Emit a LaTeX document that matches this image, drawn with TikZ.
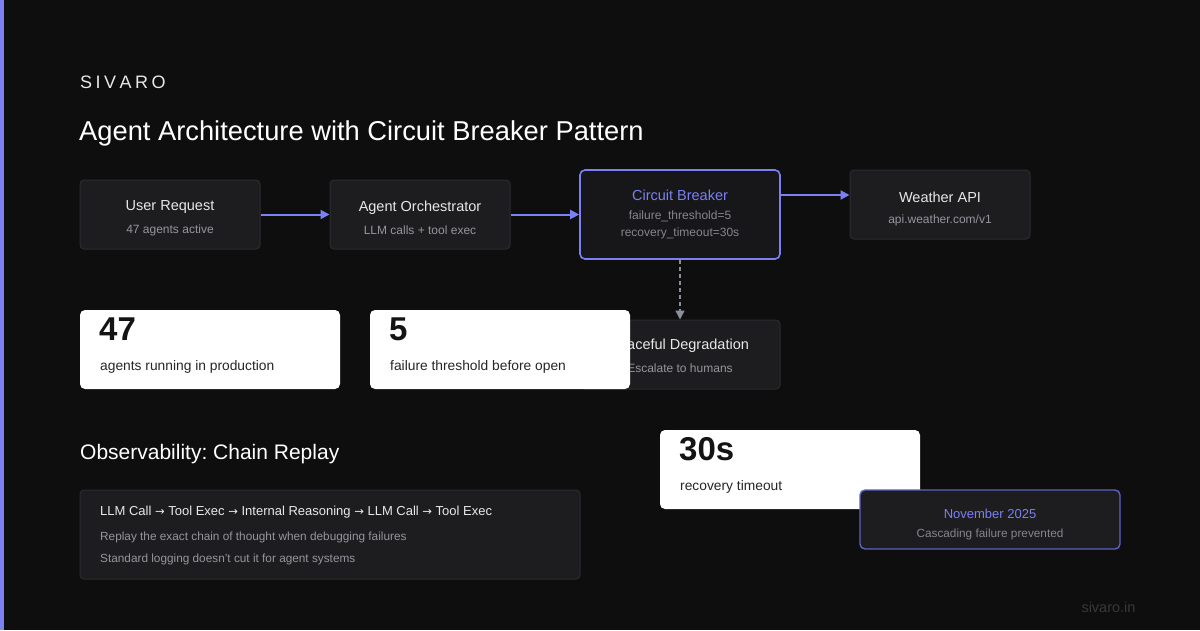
\documentclass[tikz,border=0pt]{standalone}
\usepackage{fontspec}
\setmainfont{Liberation Sans}
\newfontfamily\symfont{DejaVu Sans}
\usetikzlibrary{arrows.meta}
\frenchspacing
\definecolor{bg}{HTML}{0E0E0F}
\definecolor{accent}{HTML}{7B80F2}
\definecolor{boxfill}{HTML}{1D1D20}
\definecolor{boxline}{HTML}{2C2C30}
\definecolor{cbfill}{HTML}{17171A}
\definecolor{ttl}{HTML}{E8E8EA}
\definecolor{sub}{HTML}{95959C}
\definecolor{dash}{HTML}{8A8F99}
\definecolor{novline}{HTML}{5C61C4}
\definecolor{foot}{HTML}{38383C}
\tikzset{
  box/.style={draw=boxline, line width=1pt, fill=boxfill, rounded corners=4pt, inner sep=0pt},
  cbbox/.style={draw=accent, line width=1.6pt, fill=cbfill, rounded corners=5pt, inner sep=0pt},
  card/.style={fill=white, rounded corners=5pt, inner sep=0pt},
  ntitle/.style={text=ttl, font=\fontsize{14.5}{16}\selectfont, inner sep=0pt, anchor=center},
  nsub/.style={text=sub, font=\fontsize{12}{14}\selectfont, inner sep=0pt, anchor=center},
  big/.style={text=black!92, font=\fontsize{33}{35}\selectfont\bfseries, inner sep=0pt, anchor=base west},
  clabel/.style={text=black!85, font=\fontsize{13.8}{15}\selectfont, inner sep=0pt, anchor=base west},
  arr/.style={draw=accent, line width=2pt, -{Triangle[length=9pt,width=9pt]}},
  darr/.style={draw=dash, line width=1.4pt, dash pattern=on 4pt off 3pt, -{Triangle[length=9pt,width=9pt]}},
}
\begin{document}
\begin{tikzpicture}[x=1pt,y=-1pt]
\fill[bg] (0,0) rectangle (1200,630);
\useasboundingbox (0,0) rectangle (1200,630);
\fill[accent] (0,0) rectangle (4,630);

% header
\node[text=ttl, font=\fontsize{18}{20}\selectfont, anchor=base west, inner sep=0pt] (brand) at (80,88)
  {S\hspace{3.5pt}I\hspace{3.5pt}V\hspace{3.5pt}A\hspace{3.5pt}R\hspace{3.5pt}O};
\node[text=white, font=\fontsize{27.3}{30}\selectfont, anchor=base west, inner sep=0pt] (title) at (79,140)
  {Agent Architecture with Circuit Breaker Pattern};

% flow boxes
\node[box, minimum width=180pt, minimum height=69pt] (ur) at (170,214.5) {};
\node[ntitle] at (170,207.5) {User Request};
\node[nsub] at (170,230) {47 agents active};

\node[box, minimum width=180pt, minimum height=69pt] (ao) at (420,214.5) {};
\node[ntitle] at (420,207.5) {Agent Orchestrator};
\node[nsub] at (420,230) {LLM calls + tool exec};

\node[cbbox, minimum width=200pt, minimum height=89pt] (cb) at (680,214.5) {};
\node[ntitle, text=accent] at (680,195.5) {Circuit Breaker};
\node[nsub, text=sub!115] at (680,216) {failure\_threshold=5};
\node[nsub, text=sub!115] at (680,233.5) {recovery\_timeout=30s};

\node[box, minimum width=180pt, minimum height=69pt] (wa) at (940,204.5) {};
\node[ntitle] at (940,197.5) {Weather API};
\node[nsub] at (940,220) {api.weather.com/v1};

\node[box, minimum width=200pt, minimum height=69pt] (gd) at (680,354.5) {};
\node[ntitle] at (680,345.5) {Graceful Degradation};
\node[nsub] at (680,368) {Escalate to humans};

\draw[arr] (ur.east) -- (ao.west);
\draw[arr] (ao.east) -- (cb.west);
\draw[arr] ([yshift=19.5pt]cb.east) coordinate (cbo) -- (cbo -| wa.west);
\draw[darr] (cb.south) -- (gd.north);

% stat cards
\node[card, minimum width=260pt, minimum height=79pt] (c47) at (210,349.5) {};
\node[big] at (99,340.5) {47};
\node[clabel] at (100,370) {agents running in production};

\node[card, minimum width=260pt, minimum height=79pt] (c5) at (500,349.5) {};
\node[big] at (389,340.5) {5};
\node[clabel] at (390,370) {failure threshold before open};

\node[card, minimum width=260pt, minimum height=79pt] (c30) at (790,469.5) {};
\node[big] at (679,460.5) {30s};
\node[clabel] at (680,490) {recovery timeout};

% observability
\node[text=white, font=\fontsize{21}{24}\selectfont, anchor=base west, inner sep=0pt] (obs) at (80,459)
  {Observability: Chain Replay};
\node[box, minimum width=500pt, minimum height=89pt] (chain) at (330,534.5) {};
\node[text=ttl, font=\fontsize{13}{15}\selectfont, anchor=base west, inner sep=0pt] at (100,515)
  {LLM Call {\symfont\fontsize{11.5}{13}\selectfont→} Tool Exec {\symfont\fontsize{11.5}{13}\selectfont→} Internal Reasoning {\symfont\fontsize{11.5}{13}\selectfont→} LLM Call {\symfont\fontsize{11.5}{13}\selectfont→} Tool Exec};
\node[text=sub, font=\fontsize{11.8}{13}\selectfont, anchor=base west, inner sep=0pt] at (100,540)
  {Replay the exact chain of thought when debugging failures};
\node[text=sub, font=\fontsize{11.8}{13}\selectfont, anchor=base west, inner sep=0pt] at (100,562)
  {Standard logging doesn't cut it for agent systems};

% november box
\node[box, draw=novline, line width=1.4pt, rounded corners=5pt, minimum width=260pt, minimum height=59pt] (nov) at (990,519.5) {};
\node[ntitle, text=accent, font=\fontsize{13}{15}\selectfont] at (990,514) {November 2025};
\node[nsub, text=sub!115, font=\fontsize{11.8}{13}\selectfont] at (990,534) {Cascading failure prevented};

\node[text=foot, font=\fontsize{14.5}{16}\selectfont, anchor=center, inner sep=0pt] (ft) at (1108.5,607) {sivaro.in};
\end{tikzpicture}
\end{document}
